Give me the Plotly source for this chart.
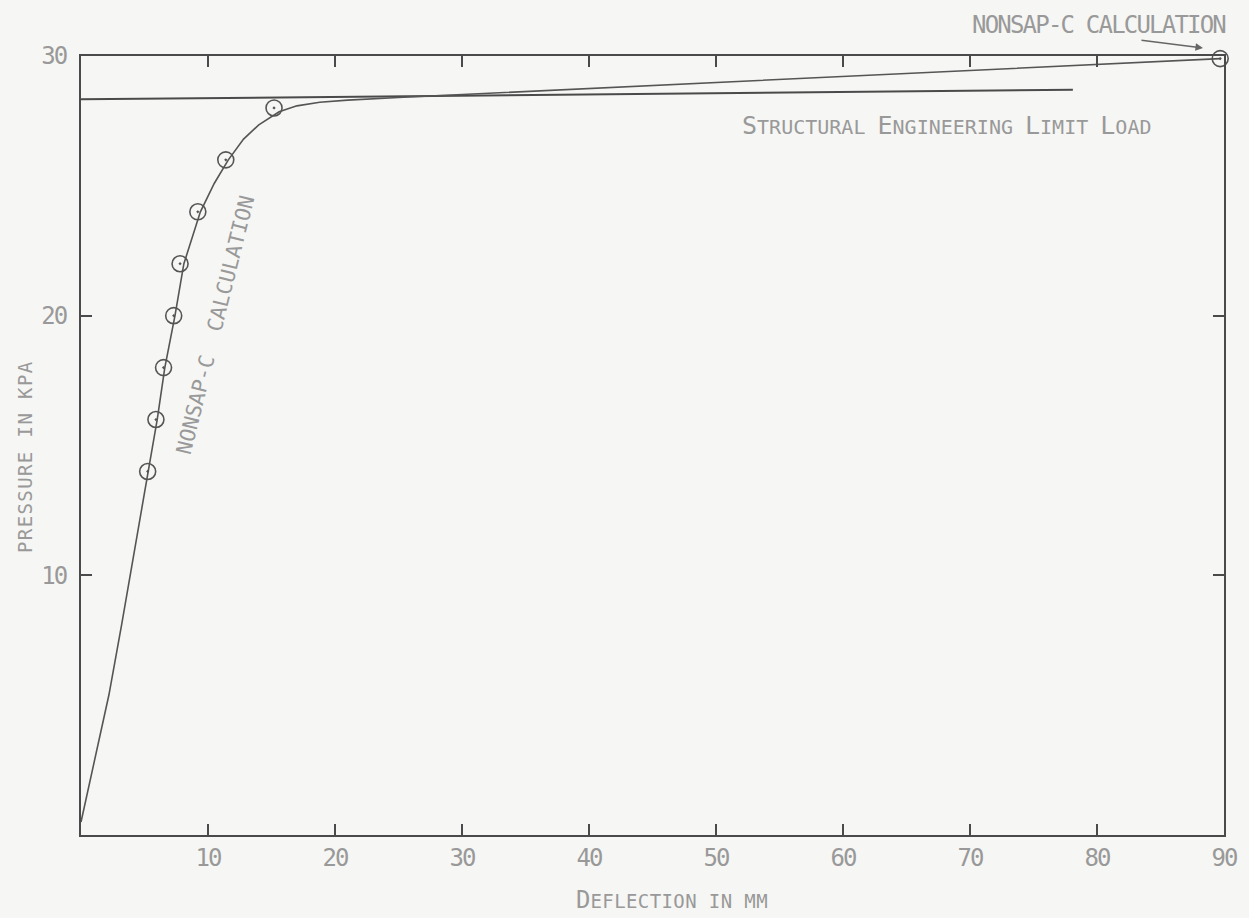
import plotly.graph_objects as go

# ---- data ----
curve_x = [0.0, 2.2, 3.2, 5.3, 6.0, 6.6, 7.4, 8.1, 9.4, 10.5, 11.6, 12.8, 14.0, 15.6, 17.0, 18.8, 21.0, 25.0, 40.0, 60.0, 75.0, 89.7]
curve_y = [0.5, 5.4, 8.1, 14.0, 16.0, 18.0, 20.0, 22.0, 24.0, 25.1, 26.0, 26.8, 27.35, 27.85, 28.08, 28.22, 28.3, 28.4, 28.75, 29.2, 29.55, 29.9]

point_x = [5.25, 5.9, 6.5, 7.3, 7.8, 9.2, 11.4, 15.2, 89.7]
point_y = [14.0, 16.0, 18.0, 20.0, 22.0, 24.0, 26.0, 28.0, 29.9]

limit_x = [0.0, 78.1]
limit_y = [28.33, 28.7]

x_ticks = [10, 20, 30, 40, 50, 60, 70, 80, 90]
y_ticks = [10, 20, 30]

FONT = "DejaVu Sans Mono"
INK = "#4a4a4a"
TXT = "#999999"
BG = "#f6f6f4"

def sp(t, size=None, ls=None):
    st = []
    if size is not None:
        st.append(f"font-size:{size}px")
    if ls is not None:
        st.append(f"letter-spacing:{ls}px")
    return f'<span style="{";".join(st)}">{t}</span>'

fig = go.Figure()

fig.add_trace(go.Scatter(x=limit_x, y=limit_y, mode="lines",
                         line=dict(color=INK, width=2), hoverinfo="skip"))
fig.add_trace(go.Scatter(x=curve_x, y=curve_y, mode="lines",
                         line=dict(color="#555555", width=1.6), hoverinfo="skip"))
fig.add_trace(go.Scatter(x=point_x, y=point_y, mode="markers",
                         marker=dict(symbol="circle-open-dot", size=16, color="#555555",
                                     line=dict(width=1.6, color="#555555")),
                         cliponaxis=False, hoverinfo="skip"))

axis_common = dict(showline=True, linecolor=INK, linewidth=2, mirror="ticks",
                   ticks="inside", ticklen=11, tickwidth=1.5, tickcolor=INK,
                   showgrid=False, zeroline=False,
                   tickfont=dict(family=FONT, size=24, color=TXT))

fig.update_xaxes(range=[0, 90], tickmode="array", tickvals=x_ticks,
                 ticktext=[sp(str(v), ls=-2) for v in x_ticks],
                 ticklabelstandoff=0, **axis_common)
fig.update_yaxes(range=[0, 30], tickmode="array", tickvals=y_ticks,
                 ticktext=[sp(str(v), ls=-2) for v in y_ticks],
                 ticklabelstandoff=8, **axis_common)

ann = []
# limit load label (small caps style)
limit_txt = (sp("S", 25) + sp("TRUCTURAL", 20) + sp(" ", 20) + sp("E", 25) + sp("NGINEERING", 20)
             + sp(" ", 20) + sp("L", 25) + sp("IMIT", 20) + sp(" ", 20) + sp("L", 25) + sp("OAD", 20))
ann.append(dict(x=51.9, y=27.34, xref="x", yref="y", text=limit_txt, showarrow=False,
                xanchor="left", yanchor="middle", font=dict(family=FONT, size=20, color=TXT)))
# top right label
ann.append(dict(x=1.0026, y=1.0398, xref="paper", yref="paper", text=sp("NONSAP-C CALCULATION", ls=-1.8),
                showarrow=False, xanchor="right", yanchor="middle",
                font=dict(family=FONT, size=24, color=TXT)))
# arrow to the final point
ann.append(dict(x=0.9816, y=1.0103, xref="paper", yref="paper", text="", showarrow=True,
                ax=-63, ay=-8, arrowhead=2, arrowsize=1, arrowwidth=1.5, arrowcolor="#666666"))
# curve label
ann.append(dict(x=10.6, y=19.64, xref="x", yref="y", text="NONSAP-C  CALCULATION",
                showarrow=False, textangle=-76, xanchor="center", yanchor="middle",
                font=dict(family=FONT, size=21, color=TXT)))
# axis titles
ann.append(dict(x=-0.049, y=0.4865, xref="paper", yref="paper",
                text=sp("PRESSURE IN KPA", ls=1.4), showarrow=False, textangle=-90,
                xanchor="center", yanchor="middle",
                font=dict(family=FONT, size=19, color=TXT)))
ann.append(dict(x=0.517, y=-0.084, xref="paper", yref="paper",
                text=sp("D", 24) + sp("EFLECTION IN MM", 19, 0.4), showarrow=False,
                xanchor="center", yanchor="middle",
                font=dict(family=FONT, size=19, color=TXT)))

fig.update_layout(width=1249, height=918, margin=dict(l=81, r=25, t=56, b=83),
                  paper_bgcolor=BG, plot_bgcolor=BG, showlegend=False,
                  annotations=ann)

fig.write_html("out.html", config={"displayModeBar": False},
               post_script="document.body.style.margin='0';document.body.style.background='#f6f6f4';document.body.style.overflow='hidden';")
